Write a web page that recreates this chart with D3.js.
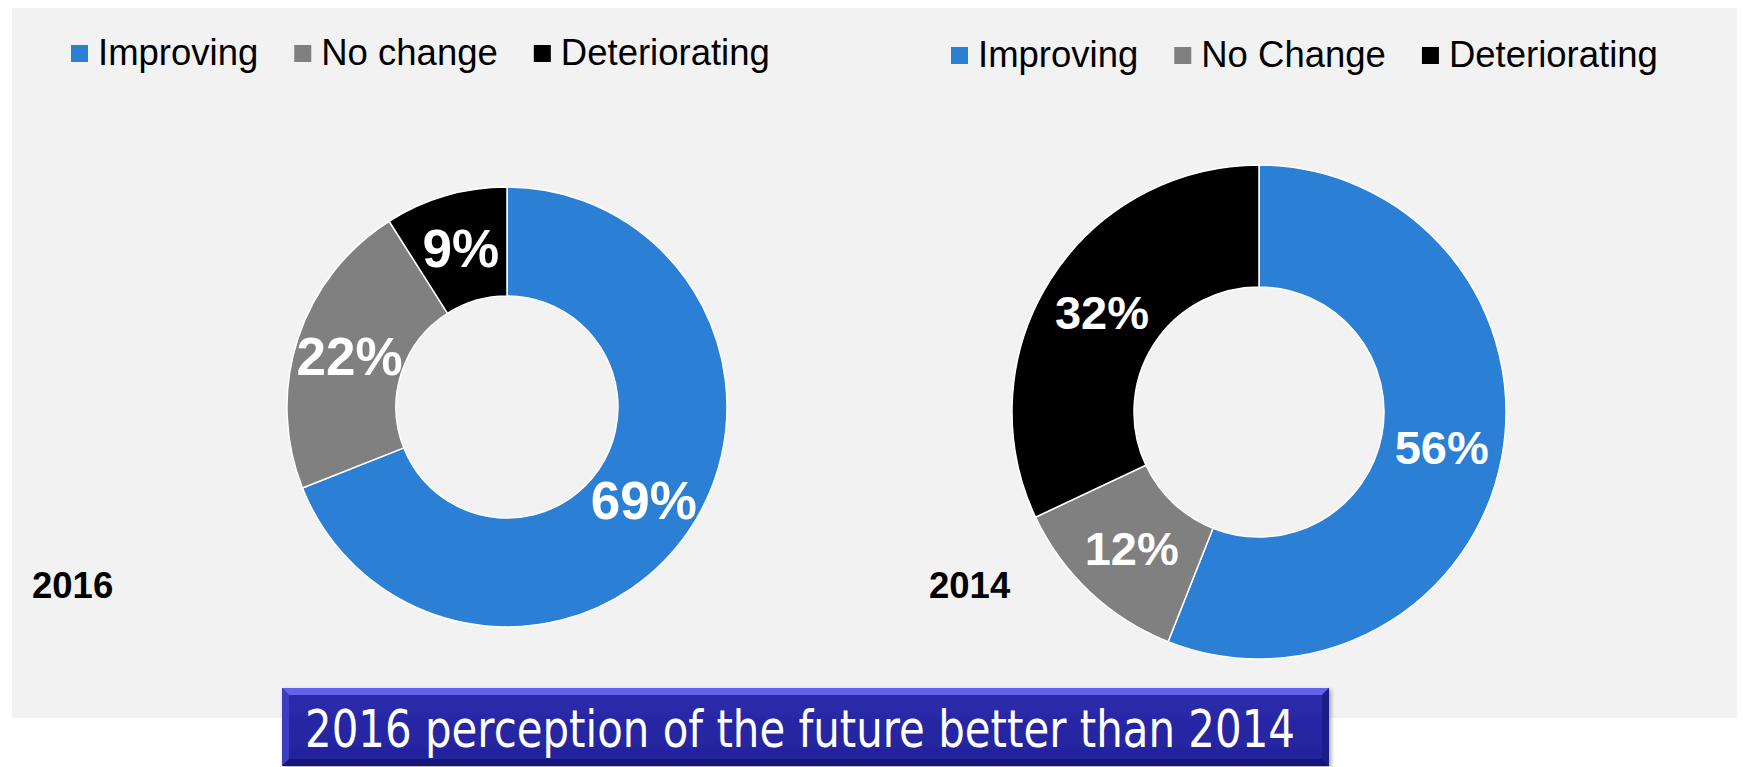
<!DOCTYPE html>
<html>
<head>
<meta charset="utf-8">
<script src="https://cdn.jsdelivr.net/npm/d3@7"></script>
<style>
  html, body { margin: 0; padding: 0; background: #fff; }
  svg { display: block; }
</style>
</head>
<body>
<div id="chart"></div>
<script>
// chart values
const labels2016 = ["Improving", "No change", "Deteriorating"];
const values2016 = [69, 22, 9];
const labels2014 = ["Improving", "No Change", "Deteriorating"];
const values2014 = [56, 12, 32];
const years = ["2016", "2014"];
const bannerText = "2016 perception of the future better than 2014";

const width = 1743, height = 767;

const color = d3.scaleOrdinal()
  .domain([0, 1, 2])
  .range(["#2b7fd4", "#808080", "#000000"]);

const svg = d3.select("#chart")
  .append("svg")
  .attr("width", width)
  .attr("height", height);

const defs = svg.append("defs");
const grad = defs.append("linearGradient")
  .attr("id", "bannerFill")
  .attr("x1", 0).attr("y1", 0).attr("x2", 0).attr("y2", 1);
grad.append("stop").attr("offset", "0%").attr("stop-color", "#2c2cae");
grad.append("stop").attr("offset", "100%").attr("stop-color", "#22229a");

const shadow = defs.append("filter").attr("id", "shadow")
  .attr("x", "-5%").attr("y", "-20%").attr("width", "110%").attr("height", "150%");
shadow.append("feDropShadow")
  .attr("dx", 2).attr("dy", 2).attr("stdDeviation", 2)
  .attr("flood-color", "#000").attr("flood-opacity", 0.35);

// grey panel behind both charts
svg.append("rect")
  .attr("x", 12).attr("y", 8)
  .attr("width", 1725).attr("height", 710)
  .attr("fill", "#f2f2f2");

// one donut chart with its legend
function drawDonut(opts) {
  const { labels, values, cx, cy, outer, inner, legendX, legendY, labelSize, year, yearX } = opts;
  const g = svg.append("g");

  // legend
  const legend = g.append("g").attr("transform", `translate(${legendX},${legendY})`);
  let x = 0;
  labels.forEach((name, i) => {
    legend.append("rect")
      .attr("x", x).attr("y", -20)
      .attr("width", 17).attr("height", 17)
      .attr("fill", color(i));
    const t = legend.append("text")
      .attr("x", x + 27).attr("y", 0)
      .attr("font-family", "Liberation Sans, Arial, sans-serif")
      .attr("font-size", 36.5)
      .attr("fill", "#000")
      .text(name);
    x += 27 + t.node().getComputedTextLength() + 36;
  });

  const pie = d3.pie().sort(null).value((d) => d);
  const arc = d3.arc().innerRadius(inner).outerRadius(outer);

  const donut = g.append("g").attr("transform", `translate(${cx},${cy})`);
  const arcs = pie(values);

  donut.selectAll("path")
    .data(arcs)
    .join("path")
    .attr("d", arc)
    .attr("fill", (d, i) => color(i))
    .attr("stroke", "#ffffff")
    .attr("stroke-width", 1.5);

  donut.selectAll("text")
    .data(arcs)
    .join("text")
    .attr("transform", (d) => `translate(${arc.centroid(d)})`)
    .attr("text-anchor", "middle")
    .attr("dy", "0.36em")
    .attr("font-family", "Liberation Sans, Arial, sans-serif")
    .attr("font-weight", "bold")
    .attr("font-size", labelSize)
    .attr("fill", "#fff")
    .text((d) => d.data + "%");

  // year caption
  g.append("text")
    .attr("x", yearX).attr("y", 598)
    .attr("font-family", "Liberation Sans, Arial, sans-serif")
    .attr("font-weight", "bold")
    .attr("font-size", 36.5)
    .attr("fill", "#000")
    .text(year);
}

drawDonut({
  labels: labels2016, values: values2016,
  cx: 507, cy: 407, outer: 220, inner: 111,
  legendX: 71, legendY: 65, labelSize: 53,
  year: years[0], yearX: 32
});

drawDonut({
  labels: labels2014, values: values2014,
  cx: 1259, cy: 412, outer: 247, inner: 125,
  legendX: 951, legendY: 67, labelSize: 47,
  year: years[1], yearX: 929
});

// bevelled banner at the bottom
const bx = 282, by = 688, bw = 1047, bh = 78, bev = 7;
const banner = svg.append("g").attr("filter", "url(#shadow)");
banner.append("rect")
  .attr("x", bx).attr("y", by).attr("width", bw).attr("height", bh)
  .attr("fill", "url(#bannerFill)");
// top bevel
banner.append("path")
  .attr("d", `M${bx},${by} L${bx + bw},${by} L${bx + bw - bev},${by + bev} L${bx + bev},${by + bev} Z`)
  .attr("fill", "#6262ea");
// left bevel
banner.append("path")
  .attr("d", `M${bx},${by} L${bx + bev},${by + bev} L${bx + bev},${by + bh - bev} L${bx},${by + bh} Z`)
  .attr("fill", "#3c3cc4");
// right bevel
banner.append("path")
  .attr("d", `M${bx + bw},${by} L${bx + bw},${by + bh} L${bx + bw - bev},${by + bh - bev} L${bx + bw - bev},${by + bev} Z`)
  .attr("fill", "#1e1e8a");
// bottom bevel
banner.append("path")
  .attr("d", `M${bx},${by + bh} L${bx + bev},${by + bh - bev} L${bx + bw - bev},${by + bh - bev} L${bx + bw},${by + bh} Z`)
  .attr("fill", "#17177a");

svg.append("text")
  .attr("x", 305).attr("y", 747)
  .attr("font-family", "DejaVu Sans, Verdana, sans-serif")
  .attr("font-size", 52)
  .attr("fill", "#fff")
  .attr("textLength", 990)
  .attr("lengthAdjust", "spacingAndGlyphs")
  .text(bannerText);
</script>
</body>
</html>
